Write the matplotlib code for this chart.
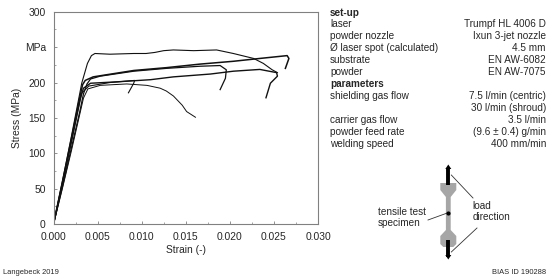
import matplotlib
matplotlib.use("Agg")
import matplotlib.pyplot as plt
from matplotlib.patches import Polygon

plt.rcParams['font.family'] = ['Liberation Sans', 'DejaVu Sans']

##########   curves: strain (-) and stress (MPa)   ##########

strain_a = [0, .0010, .0020, .0030, .0032, .00385, .0043, .0047, .0064, .0091, .0105, .0115, .0125, .0136, .0159, .0172, .0185, .0204, .0227, .0238, .0248, .0254]
stress_a = [0, 60, 122, 186, 199, 227, 238, 241, 240, 241, 241, 242.5, 245, 246, 245, 245.5, 246, 241, 234, 227, 218, 214]

strain_b = [0, .0010, .0020, .0030, .0033, .0036, .0045, .0091, .0128, .0166, .0204, .0234, .0265, .0267, .0263]
stress_b = [0, 59, 119, 180, 197, 203, 208, 217, 221, 226, 230, 234, 238, 234, 220]

strain_c = [0, .0010, .0020, .0030, .0034, .0038, .0042, .0053, .0091, .0128, .0166, .0189, .0196, .0195, .0189]
stress_c = [0, 52, 106, 160, 184, 198, 205, 209, 216, 220, 223, 224, 218, 206, 190]

strain_d = [0, .0010, .0020, .0030, .0034, .0042, .0072, .0110, .0136, .0178, .0204, .0234, .0253, .0254, .0246, .0241]
stress_d = [0, 57, 116, 176, 192, 199, 201, 204, 208, 212, 216, 218.5, 214, 209, 199, 178.5]

strain_e = [0, .0010, .0020, .0032, .0040, .0064, .0092, .0091, .0085]
stress_e = [0, 56, 114, 185, 195, 200, 203, 199, 185.5]

strain_f = [0, .0010, .0020, .0034, .0039, .0053, .0083, .0106, .0121, .0128, .0136, .0146, .0151, .0161]
stress_f = [0, 50, 102, 178, 191, 196, 198, 196, 192, 188, 181, 168, 159, 151]

curves = [(strain_a, stress_a, 0.8), (strain_b, stress_b, 1.1), (strain_c, stress_c, 0.9),
          (strain_d, stress_d, 1.0), (strain_e, stress_e, 0.8), (strain_f, stress_f, 0.7)]

x_ticks = [0.000, 0.005, 0.010, 0.015, 0.020, 0.025, 0.030]
y_ticks = [0, 50, 100, 150, 200, 250, 300]
y_labels = ['0', '50', '100', '150', '200', 'MPa', '300']

setup_left = ['laser', 'powder nozzle', 'Ø laser spot (calculated)', 'substrate', 'powder']
setup_right = ['Trumpf HL 4006 D', 'Ixun 3-jet nozzle', '4.5 mm', 'EN AW-6082', 'EN AW-7075']
param_left = ['shielding gas flow', '', 'carrier gas flow', 'powder feed rate', 'welding speed']
param_right = ['7.5 l/min (centric)', '30 l/min (shroud)', '3.5 l/min', '(9.6 ± 0.4) g/min', '400 mm/min']

W, H = 550, 280
TXT = '#262626'

fig = plt.figure(figsize=(W / 100, H / 100), dpi=100)

##########   stress-strain plot   ##########

ax = fig.add_axes([53.5 / W, 1 - 224.2 / H, 264.5 / W, 212.5 / H])
for x, y, lw in curves:
    ax.plot(x, y, color='#111111', lw=lw, solid_joinstyle='round')

ax.set_xlim(0, 0.03)
ax.set_ylim(0, 300)
ax.set_xticks(x_ticks)
ax.set_xticklabels([f'{t:.3f}' for t in x_ticks])
ax.set_yticks(y_ticks)
ax.set_yticklabels(y_labels)
ax.set_xticks([t + 0.0025 for t in x_ticks[:-1]], minor=True)
ax.set_yticks([t + 25 for t in y_ticks[:-1]], minor=True)
ax.tick_params(which='major', direction='in', length=2.5, width=0.6, color='#808080',
               labelsize=7.4, labelcolor=TXT)
ax.tick_params(axis='x', which='major', pad=5.5)
ax.tick_params(axis='y', which='major', pad=5.5)
ax.tick_params(which='minor', direction='in', length=1.5, width=0.5, color='#808080')
for s in ax.spines.values():
    s.set_color('#808080')
    s.set_linewidth(0.8)

##########   overlay in pixels for the table and the specimen sketch   ##########

ov = fig.add_axes([0, 0, 1, 1])
ov.set_xlim(0, W)
ov.set_ylim(H, 0)
ov.axis('off')
ov.patch.set_alpha(0)

def label(x, y, s, ha='left', size=7.2, weight='normal', rotation=0):
    ov.text(x, y, s, ha=ha, va='center', fontsize=size, fontweight=weight, color=TXT, rotation=rotation)

label(186, 250, 'Strain (-)', ha='center', size=7.4)
label(17.5, 117.5, 'Stress (MPa)', ha='center', size=7.4, rotation=90)

LEFT, RIGHT = 330, 546
label(LEFT, 12.5, 'set-up', weight='bold')
for i, (a, b) in enumerate(zip(setup_left, setup_right)):
    label(LEFT, 24.3 + 12 * i, a)
    label(RIGHT, 24.3 + 12 * i, b, ha='right')
label(LEFT, 84, 'parameters', weight='bold')
for i, (a, b) in enumerate(zip(param_left, param_right)):
    label(LEFT, 96 + 12 * i, a)
    label(RIGHT, 96 + 12 * i, b, ha='right')

label(3, 272.3, 'Langebeck 2019', size=5.4)
label(546, 272.3, 'BIAS ID 190288', ha='right', size=5.4)

# specimen
cx = 448.3
outline = [(cx - 8, 183), (cx + 8, 183), (cx + 8, 190), (cx + 2.4, 197), (cx + 2.4, 230),
           (cx + 8, 236), (cx + 8, 244), (cx + 5, 247), (cx - 5, 247), (cx - 8, 244),
           (cx - 8, 236), (cx - 2.4, 230), (cx - 2.4, 197), (cx - 8, 190)]
ov.add_patch(Polygon(outline, closed=True, fc='#a6a6a6', ec='none'))

# clamps and load arrows
ov.plot([cx, cx], [168, 184.5], color='black', lw=2.8, solid_capstyle='butt')
ov.plot([cx, cx], [240, 257], color='black', lw=2.8, solid_capstyle='butt')
ov.add_patch(Polygon([(cx - 3, 169), (cx, 164.5), (cx + 3, 169)], closed=True, fc='black', ec='none'))
ov.add_patch(Polygon([(cx - 3, 255), (cx, 259.5), (cx + 3, 255)], closed=True, fc='black', ec='none'))

# leader lines
ov.plot([cx + 3, 473], [175, 198], color='#333333', lw=0.6)
ov.plot([cx + 3, 477], [252, 228], color='#333333', lw=0.6)
ov.plot([428, cx - 1], [220, 213], color='#333333', lw=0.6)
ov.plot([cx], [212.5], 'o', color='black', ms=2)

label(472.7, 205.7, 'load')
label(472.7, 217.3, 'direction')
label(377.7, 211.7, 'tensile test')
label(377.7, 223, 'specimen')

fig.savefig('out.png', dpi=100)
